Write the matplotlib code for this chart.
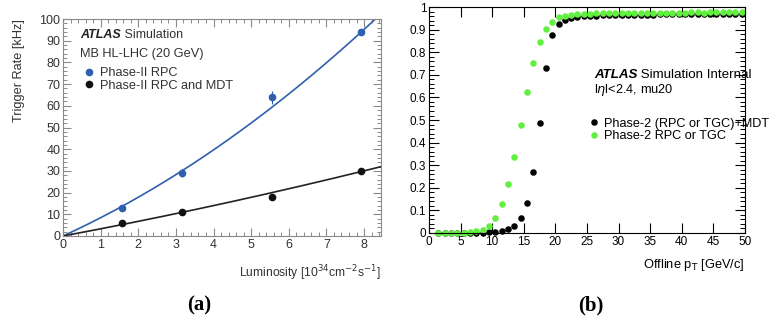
import numpy as np
import matplotlib.pyplot as plt
from matplotlib.lines import Line2D
from matplotlib.ticker import MultipleLocator, FuncFormatter

plt.rcParams['font.family'] = ['Liberation Sans', 'DejaVu Sans']

# --- (a) trigger rate vs luminosity ---
lumi = [1.58, 3.15, 5.55, 7.92]
rate_rpc = [13.0, 29.0, 64.0, 94.0]
err_rpc = [1.5, 1.8, 3.0, 1.5]
rate_rpc_mdt = [6.0, 11.0, 18.0, 30.0]
err_rpc_mdt = [0.6, 0.6, 0.8, 0.8]
# fit: rate = p1*L + p2*L^2
fit_rpc = (7.94, 0.495)
fit_rpc_mdt = (3.25, 0.063)

# --- (b) efficiency vs offline pT ---
pt_bins = np.arange(1.5, 50, 1.0)
eff_rpc_tgc = [0.000, 0.000, 0.000, 0.000, 0.001, 0.003, 0.007, 0.015, 0.031, 0.067,
               0.127, 0.217, 0.336, 0.476, 0.626, 0.753, 0.846, 0.903, 0.935, 0.954,
               0.962, 0.966, 0.969, 0.970, 0.971, 0.972, 0.972, 0.973, 0.973, 0.973,
               0.974, 0.974, 0.974, 0.974, 0.975, 0.975, 0.975, 0.975, 0.975, 0.975,
               0.976, 0.976, 0.975, 0.976, 0.976, 0.976, 0.976, 0.976, 0.976]
eff_mdt = [0.000, 0.000, 0.000, 0.000, 0.000, 0.000, 0.001, 0.002, 0.003, 0.006,
           0.010, 0.018, 0.033, 0.065, 0.134, 0.272, 0.485, 0.730, 0.878, 0.925,
           0.944, 0.951, 0.956, 0.959, 0.961, 0.962, 0.963, 0.964, 0.965, 0.965,
           0.966, 0.966, 0.967, 0.967, 0.967, 0.968, 0.968, 0.968, 0.968, 0.969,
           0.969, 0.969, 0.969, 0.969, 0.970, 0.970, 0.970, 0.970, 0.970]

BLUE = '#2f5fae'
GREEN = '#62f040'

fig = plt.figure(figsize=(7.75, 3.2), dpi=100)
ax1 = fig.add_axes([0.0813, 0.2625, 0.4103, 0.678])
ax2 = fig.add_axes([0.5535, 0.2719, 0.4077, 0.706])

# ----- panel a -----
L = np.linspace(0, 8.45, 200)
ax1.plot(L, fit_rpc[0] * L + fit_rpc[1] * L**2, color=BLUE, lw=1.2)
ax1.plot(L, fit_rpc_mdt[0] * L + fit_rpc_mdt[1] * L**2, color='#222222', lw=1.2)
ax1.errorbar(lumi, rate_rpc, yerr=err_rpc, fmt='o', ms=4.5, color=BLUE,
             elinewidth=0.8, capsize=0, zorder=3)
ax1.errorbar(lumi, rate_rpc_mdt, yerr=err_rpc_mdt, fmt='o', ms=4.5, color='#111111',
             elinewidth=0.8, capsize=0, zorder=3)
ax1.set_xlim(0, 8.45)
ax1.set_ylim(0, 100)
ax1.xaxis.set_major_locator(MultipleLocator(1))
ax1.xaxis.set_minor_locator(MultipleLocator(0.2))
ax1.yaxis.set_major_locator(MultipleLocator(10))
ax1.yaxis.set_minor_locator(MultipleLocator(2))
for s in ax1.spines.values():
    s.set_color('#8a8a8a')
ax1.tick_params(which='both', direction='in', top=True, right=True,
                colors='#8a8a8a', labelcolor='#333333', labelsize=9)
ax1.tick_params(which='major', length=6, width=0.8, pad=2)
ax1.tick_params(which='minor', length=3, width=0.7)
ax1.set_ylabel('Trigger Rate [kHz]', loc='top', fontsize=9.2, color='#333333', labelpad=10)
ax1.set_xlabel('Luminosity [10$^{34}$cm$^{-2}$s$^{-1}$]', loc='right', fontsize=8.7,
               color='#333333', labelpad=9)

t = ax1.text(0.053, 0.926, 'ATLAS', transform=ax1.transAxes, fontsize=9,
             fontweight='bold', fontstyle='italic', color='#222222', va='center')
ax1.annotate(' Simulation', xy=(1, 0.5), xycoords=t, va='center', fontsize=9,
             color='#333333')
ax1.text(0.053, 0.838, 'MB HL-LHC (20 GeV)', transform=ax1.transAxes, fontsize=9.2,
         color='#333333', va='center')
h1 = [Line2D([], [], ls='', marker='o', ms=4.5, color=BLUE),
      Line2D([], [], ls='', marker='o', ms=4.5, color='#111111')]
leg1 = ax1.legend(h1, ['Phase-II RPC', 'Phase-II RPC and MDT'], loc='upper left',
                  bbox_to_anchor=(0.067, 0.778), frameon=False, fontsize=9.2,
                  handlelength=0.8, handletextpad=0.45, labelspacing=0.05,
                  borderpad=0, borderaxespad=0)
for txt in leg1.get_texts():
    txt.set_color('#333333')

# ----- panel b -----
ax2.plot(pt_bins, eff_mdt, 'o', ms=4.7, color='black', mec='none', clip_on=False)
ax2.plot(pt_bins, eff_rpc_tgc, 'o', ms=4.7, color=GREEN, mec='none', clip_on=False)
ax2.set_xlim(0, 50)
ax2.set_ylim(0, 1)
ax2.xaxis.set_major_locator(MultipleLocator(5))
ax2.yaxis.set_major_locator(MultipleLocator(0.1))
ax2.yaxis.set_minor_locator(MultipleLocator(0.02))
ax2.yaxis.set_major_formatter(FuncFormatter(lambda v, p: f'{v:g}'))
ax2.tick_params(which='both', direction='in', top=True, right=True, labelsize=8.5)
ax2.tick_params(which='major', length=7, width=0.8, pad=2)
ax2.tick_params(which='minor', length=3.5, width=0.7)
ax2.set_xlabel('Offline p$_{\\rm T}$ [GeV/c]', loc='right', fontsize=9.3, labelpad=7)

t2 = ax2.text(0.522, 0.699, 'ATLAS', transform=ax2.transAxes, fontsize=9.6,
              fontweight='bold', fontstyle='italic', va='center')
ax2.annotate(' Simulation Internal', xy=(1, 0.5), xycoords=t2, va='center',
             fontsize=9.6, annotation_clip=False)
ax2.text(0.522, 0.633, 'l$\\eta$l<2.4, mu20', transform=ax2.transAxes, fontsize=9.2,
         va='center')
h2 = [Line2D([], [], ls='', marker='o', ms=4.7, color='black', mec='none'),
      Line2D([], [], ls='', marker='o', ms=4.7, color=GREEN, mec='none')]
ax2.legend(h2, ['Phase-2 (RPC or TGC)+MDT', 'Phase-2 RPC or TGC'], loc='upper left',
           bbox_to_anchor=(0.505, 0.51), frameon=False, fontsize=9.1,
           handlelength=0.8, handletextpad=0.4, labelspacing=0.05,
           borderpad=0, borderaxespad=0)

fig.text(0.257, 0.045, '(a)', fontsize=15, fontweight='bold',
         family='Liberation Serif', ha='center', va='center')
fig.text(0.762, 0.045, '(b)', fontsize=15, fontweight='bold',
         family='Liberation Serif', ha='center', va='center')

fig.savefig('out.png', dpi=100)
